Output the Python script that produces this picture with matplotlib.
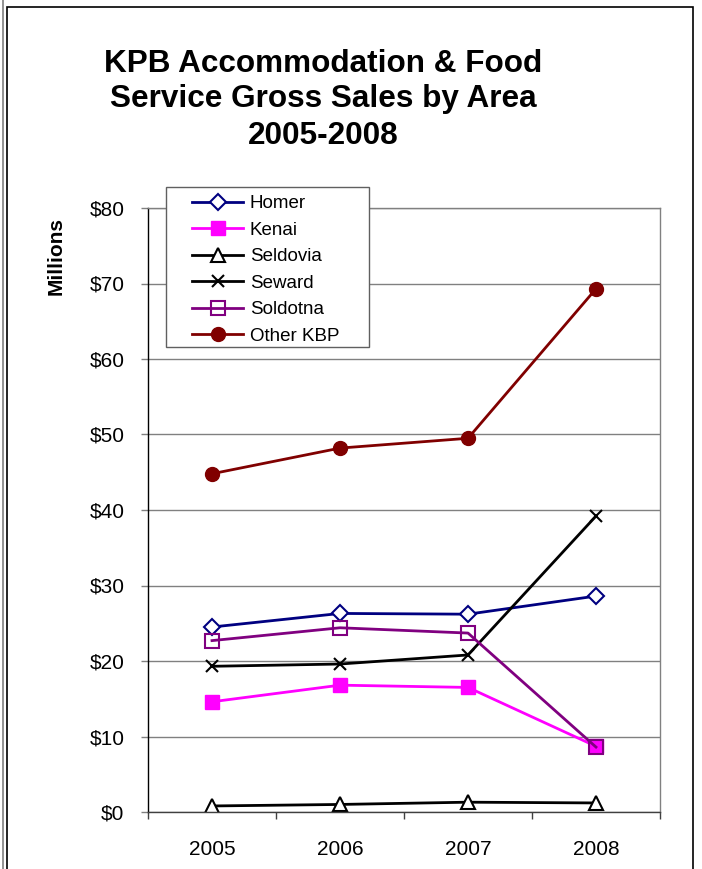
import matplotlib
matplotlib.use('Agg')
from matplotlib import pyplot as plt
from matplotlib.patches import Rectangle
from matplotlib.lines import Line2D

plt.rcParams['font.family'] = ['Liberation Sans', 'DejaVu Sans']

# Data (millions of dollars)
years = ["2005", "2006", "2007", "2008"]
homer = [24.5, 26.3, 26.2, 28.6]
kenai = [14.6, 16.8, 16.5, 8.7]
seldovia = [0.8, 1.0, 1.3, 1.2]
seward = [19.3, 19.6, 20.8, 39.2]
soldotna = [22.7, 24.4, 23.7, 8.6]
other_kbp = [44.8, 48.2, 49.5, 69.3]
yticks = [0, 10, 20, 30, 40, 50, 60, 70, 80]

W, H = 702, 869
fig = plt.figure(figsize=(W / 100, H / 100), dpi=100)
fig.patch.set_facecolor("white")

def px(x, y):
    # pixel coords (from top-left) -> figure fraction
    return x / W, 1 - y / H

# Plot area
ax = fig.add_axes([148 / W, 1 - 812 / H, (660 - 148) / W, (812 - 208) / H])
x = list(range(len(years)))

ax.plot(x, homer, color="#000080", lw=2, marker="D", ms=8.5, mfc="white", mec="#000080", mew=1.5, label="Homer")
ax.plot(x, kenai, color="#FF00FF", lw=2, marker="s", ms=10, mfc="#FF00FF", mec="#FF00FF", label="Kenai")
ax.plot(x, seldovia, color="black", lw=2, marker="^", ms=10, mfc="white", mec="black", mew=1.5, label="Seldovia")
ax.plot(x, seward, color="black", lw=2, marker="x", ms=9, mec="black", mew=1.5, label="Seward")
ax.plot(x, soldotna, color="#800080", lw=2, marker="s", ms=10, mfc="none", mec="#800080", mew=1.5, label="Soldotna")
ax.plot(x, other_kbp, color="#800000", lw=2, marker="o", ms=10, mfc="#800000", mec="#800000", label="Other KBP")

ax.set_xlim(-0.5, len(years) - 0.5)
ax.set_ylim(0, 80)
ax.set_yticks(yticks)
ax.set_yticklabels(["$%d" % v for v in yticks])
ax.yaxis.grid(True, color="#808080", lw=1)
ax.set_axisbelow(True)

# x ticks sit between categories, labels centred on them
ax.set_xticks([i - 0.5 for i in range(len(years) + 1)])
ax.set_xticklabels([])
ax.set_xticks(x, minor=True)
ax.set_xticklabels(years, minor=True)
ax.tick_params(axis="x", which="major", length=5, width=1, color="#404040", direction="out")
ax.tick_params(axis="x", which="minor", length=0, pad=20, labelsize=15)
ax.tick_params(axis="y", length=5, width=1, color="#808080", direction="out", pad=12, labelsize=15)

ax.spines["left"].set_color("black")
ax.spines["bottom"].set_color("#404040")
ax.spines["top"].set_color("#808080")
ax.spines["right"].set_color("#808080")
for s in ax.spines.values():
    s.set_linewidth(1)

# Title, three lines
for txt, yb in [("KPB Accommodation & Food", 71.5),
                ("Service Gross Sales by Area", 107.5),
                ("2005-2008", 143.5)]:
    fig.text(*px(323, yb), txt, ha="center", va="baseline", fontsize=22.7, fontweight="bold")

fig.text(*px(56, 256), "Millions", rotation=90, ha="center", va="center", fontsize=15, fontweight="bold")

# Legend box drawn on top of the plot area
fig.patches.append(Rectangle(px(166, 347), 203 / W, 160 / H, transform=fig.transFigure,
                             facecolor="white", edgecolor="#606060", lw=1, zorder=3))
handles, labels = ax.get_legend_handles_labels()
fig.legend(handles, labels, loc="upper left", bbox_to_anchor=px(192, 195),
           bbox_transform=fig.transFigure, frameon=False, fontsize=13.5,
           borderpad=0, borderaxespad=0, handlelength=2.72, handletextpad=0.37,
           labelspacing=0.5)

# Outer chart border
fig.patches.append(Rectangle(px(7, 880), 686 / W, 873 / H, transform=fig.transFigure,
                             facecolor="none", edgecolor="black", lw=1.2, zorder=2))
fig.lines.append(Line2D([2.5 / W, 2.5 / W], [0, 1], transform=fig.transFigure, color="#808080", lw=1.2))

fig.savefig("out.png", dpi=100)
